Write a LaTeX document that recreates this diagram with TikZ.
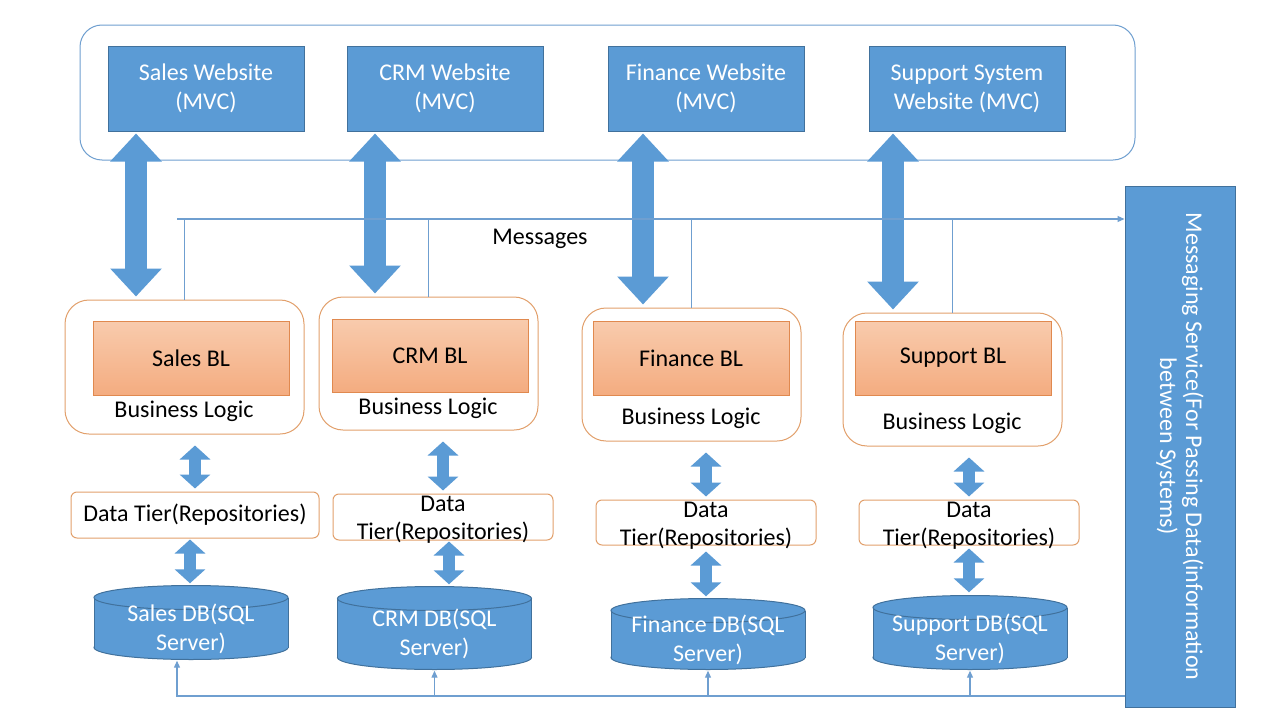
\documentclass[tikz,border=0pt]{standalone}
\usepackage{fontspec}
\setmainfont{Carlito}
\usepackage{tikz}
\usetikzlibrary{arrows.meta}
\definecolor{webblue}{HTML}{5B9BD5}
\definecolor{webedge}{HTML}{41719C}
\definecolor{linkblue}{HTML}{6F9FD0}
\definecolor{bledge}{HTML}{E2A06C}
\definecolor{coretop}{HTML}{F8CBAD}
\definecolor{corebot}{HTML}{F4AC80}
\definecolor{coreedge}{HTML}{E0894F}

\tikzset{
  frame/.style={rectangle, draw=linkblue, line width=1pt, rounded corners=22pt, minimum width=1055pt, minimum height=135pt},
  web/.style={rectangle, draw=webedge, line width=1pt, fill=webblue, text=white, minimum width=196pt, minimum height=85pt, align=center, inner sep=0pt, font=\fontsize{24}{29}\selectfont},
  msgbox/.style={rectangle, draw=webedge, line width=1pt, fill=webblue, minimum width=110pt, minimum height=521pt},
  blbox/.style={rectangle, draw=bledge, line width=1pt, rounded corners=24pt, minimum width=219pt, minimum height=133pt},
  blcore/.style={rectangle, draw=coreedge, line width=1pt, top color=coretop, bottom color=corebot, minimum width=196pt, minimum height=74pt},
  dtbox/.style={rectangle, draw=bledge, line width=1pt, rounded corners=6pt, minimum width=220pt, minimum height=45pt, inner sep=0pt},
  dbtext/.style={text=white, align=center, yshift=-6pt, font=\fontsize{24}{29}\selectfont},
  db/.style={rectangle, minimum width=196pt, inner sep=0pt, label={[dbtext]center:#1},
    path picture={
      \fill[webblue, draw=webedge, line width=1pt] ([yshift=13pt]path picture bounding box.south) ellipse (97pt and 12pt);
      \fill[webblue] ([xshift=1pt,yshift=-13pt]path picture bounding box.north west) rectangle ([xshift=-1pt,yshift=13pt]path picture bounding box.south east);
      \draw[webedge, line width=1pt] ([xshift=1pt,yshift=-13pt]path picture bounding box.north west) -- ([xshift=1pt,yshift=13pt]path picture bounding box.south west)
        ([xshift=-1pt,yshift=-13pt]path picture bounding box.north east) -- ([xshift=-1pt,yshift=13pt]path picture bounding box.south east);
      \fill[webblue, draw=webedge, line width=1pt] ([yshift=-13pt]path picture bounding box.north) ellipse (97pt and 12pt);
    }},
  fatarrow/.style={webblue, line width=22pt, {Triangle[length=28pt,width=50pt]}-{Triangle[length=28pt,width=50pt]}, shorten <=2pt, shorten >=3pt},
  smallarrow/.style={webblue, line width=12pt, {Triangle[length=14pt,width=30pt]}-{Triangle[length=14pt,width=30pt]}},
  thinline/.style={draw=linkblue, line width=1.2pt},
  tip/.style={-{Triangle[length=7pt,width=6pt]}}
}

\begin{document}
\begin{tikzpicture}[x=1pt, y=-1pt, font=\fontsize{24}{28}\selectfont]
  \fill[white] (0,0) rectangle (1280,720);

  % websites
  \node[frame] (webs) at (607.5,92.5) {};
  \node[web] (sw) at (206,88.5) {Sales Website\\(MVC)};
  \node[web] (cw) at (445,88.5) {CRM Website\\(MVC)};
  \node[web] (fw) at (706,88.5) {Finance Website\\(MVC)};
  \node[web] (pw) at (967,88.5) {Support System\\Website (MVC)};

  % messaging service
  \node[msgbox] (msg) at (1180,446.5) {};
  \node[rotate=-90, text=white, align=center, font=\fontsize{24}{26}\selectfont] (msgtxt) at (msg.center)
    {Messaging Service(For Passing Data(information\\between Systems)};

  % business logic
  \node[blbox, minimum width=239pt, minimum height=134pt] (sbl) at (184.5,367) {};
  \node[blcore] (sblc) at (191,358) {Sales BL};
  \node (sbltxt) at (184,411) {Business Logic};

  \node[blbox] (cbl) at (428.5,363.5) {};
  \node[blcore, minimum height=73pt] (cblc) at (430,355.5) {CRM BL};
  \node (cbltxt) at (428,408) {Business Logic};

  \node[blbox] (fbl) at (691.5,374.5) {};
  \node[blcore] (fblc) at (691,358) {Finance BL};
  \node (fbltxt) at (691,418) {Business Logic};

  \node[blbox] (pbl) at (952.5,379.5) {};
  \node[blcore] (pblc) at (953,358) {Support BL};
  \node (pbltxt) at (952,423) {Business Logic};

  % data tiers
  \node[dtbox, minimum width=248pt, minimum height=46pt] (sdt) at (195,515) {Data Tier(Repositories)};
  \node[dtbox, minimum height=46pt] (cdt) at (443,517) {};
  \node[align=center, yshift=-3pt] (cdttxt) at (cdt.center) {Data\\Tier(Repositories)};
  \node[dtbox] (fdt) at (706,522.5) {};
  \node[align=center, yshift=-3pt] (fdttxt) at (fdt.center) {Data\\Tier(Repositories)};
  \node[dtbox] (pdt) at (969,522.5) {};
  \node[align=center, yshift=-3pt] (pdttxt) at (pdt.center) {Data\\Tier(Repositories)};

  % databases
  \node[db={Sales DB(SQL\\Server)}, minimum height=76pt] (sdb) at (191,622.5) {};
  \node[db={CRM DB(SQL\\Server)}, minimum height=85pt] (cdb) at (434.5,628) {};
  \node[db={Finance DB(SQL\\Server)}, minimum height=73pt] (fdb) at (708,634) {};
  \node[db={Support DB(SQL\\Server)}, minimum height=76pt] (pdb) at (970,632.5) {};

  % website <-> business logic
  \draw[fatarrow] ([xshift=-70pt]sw.south) -- ([xshift=-70pt]sw.south |- sbl.north);
  \draw[fatarrow] ([xshift=-70pt]cw.south) -- ([xshift=-70pt]cw.south |- cbl.north);
  \draw[fatarrow] ([xshift=-63pt]fw.south) -- ([xshift=-63pt]fw.south |- fbl.north);
  \draw[fatarrow] ([xshift=-74pt]pw.south) -- ([xshift=-74pt]pw.south |- pbl.north);

  % business logic <-> data tier <-> db
  \draw[smallarrow, shorten <=11pt, shorten >=3pt] (sdt.north |- sbl.south) -- (sdt.north);
  \draw[smallarrow, shorten <=11pt, shorten >=3pt] (cdt.north |- cbl.south) -- (cdt.north);
  \draw[smallarrow, shorten <=11pt, shorten >=3pt] (fdt.north |- fbl.south) -- (fdt.north);
  \draw[smallarrow, shorten <=11pt, shorten >=3pt] (pdt.north |- pbl.south) -- (pdt.north);
  \draw[smallarrow, shorten <=1pt, shorten >=1pt] ([xshift=-5pt]sdt.south) -- ([xshift=-5pt]sdt.south |- sdb.north);
  \draw[smallarrow, shorten <=1pt, shorten >=1pt] ([xshift=6pt]cdt.south) -- ([xshift=6pt]cdt.south |- cdb.north);
  \draw[smallarrow, shorten <=6pt, shorten >=1pt] (fdt.south) -- (fdt.south |- fdb.north);
  \draw[smallarrow, shorten <=3pt, shorten >=2pt] (pdt.south) -- (pdt.south |- pdb.north);

  % messages bus
  \coordinate (mleft) at (177,219);
  \draw[thinline, tip] (mleft) -- (mleft -| msg.west);
  \node (msgs) at (540,239) {Messages};
  \draw[thinline] (sbl.north) -- (sbl.north |- mleft);
  \draw[thinline] (cbl.north) -- (cbl.north |- mleft);
  \draw[thinline] (fbl.north) -- (fbl.north |- mleft);
  \draw[thinline] (pbl.north) -- (pbl.north |- mleft);

  % data back to databases
  \coordinate (dleft) at (177,696);
  \draw[thinline, tip] (dleft -| msg.west) -- (dleft) -- (dleft |- sdb.south);
  \draw[thinline, tip] (cdb.south |- dleft) -- (cdb.south);
  \draw[thinline, tip] (fdb.south |- dleft) -- (fdb.south);
  \draw[thinline, tip] (pdb.south |- dleft) -- (pdb.south);
\end{tikzpicture}
\end{document}
